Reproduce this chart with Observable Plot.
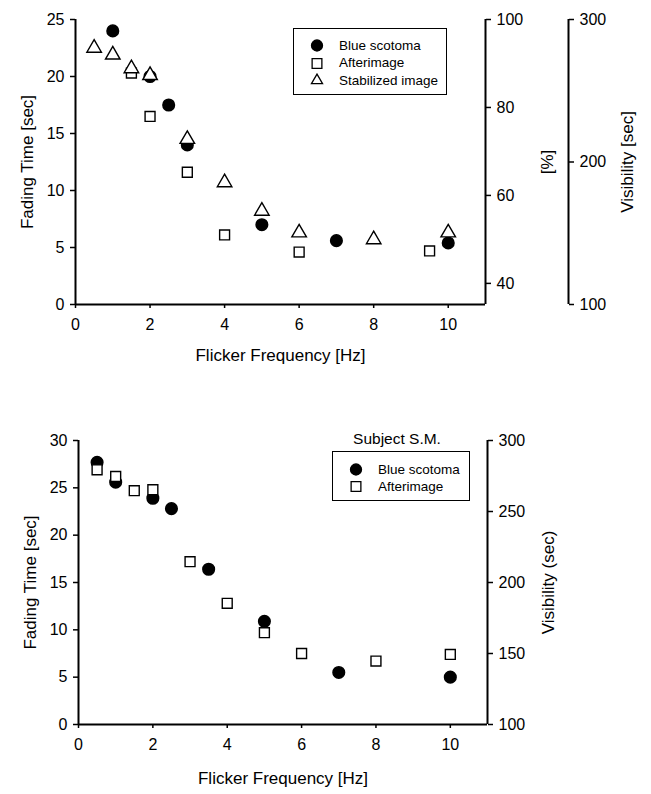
<!DOCTYPE html>
<html>
<head>
<meta charset="utf-8">
<script src="https://cdn.jsdelivr.net/npm/d3@7"></script>
<script src="https://cdn.jsdelivr.net/npm/@observablehq/plot@0.6"></script>
<style>
  body { margin: 0; background: #fff; }
  #page { position: relative; width: 651px; height: 794px; overflow: hidden; font-family: 'Liberation Sans', Arial, sans-serif; color: #000; }
  .layer { position: absolute; left: 0; pointer-events: none; }
  .legend { position: absolute; border: 1.5px solid #000; box-sizing: border-box; background: #fff; font-size: 13.5px; }
  .row { position: absolute; left: 0; height: 17px; display: flex; align-items: center; }
  .row svg { margin-left: 16px; margin-right: 15px; }
  .caption { position: absolute; font-size: 15.5px; transform: translate(-50%, -50%); white-space: nowrap; }
</style>
</head>
<body>
<div id="page"></div>
<script>
// ---------- data ----------
const topFreqBlue  = [1, 2, 2.5, 3, 5, 7, 10];
const topFadeBlue  = [24.0, 20.0, 17.5, 14.0, 7.0, 5.6, 5.4];
const topFreqAfter = [1.5, 2, 3, 4, 6, 9.5];
const topFadeAfter = [20.3, 16.5, 11.6, 6.1, 4.6, 4.7];
const topFreqStab  = [0.5, 1, 1.5, 2, 3, 4, 5, 6, 8, 10];
const topFadeStab  = [22.5, 21.9, 20.7, 20.1, 14.5, 10.7, 8.2, 6.3, 5.7, 6.3];

const botFreqBlue  = [0.5, 1, 2, 2.5, 3.5, 5, 7, 10];
const botFadeBlue  = [27.7, 25.6, 23.9, 22.8, 16.4, 10.9, 5.5, 5.0];
const botFreqAfter = [0.5, 1, 1.5, 2, 3, 4, 5, 6, 8, 10];
const botFadeAfter = [26.9, 26.2, 24.7, 24.8, 17.2, 12.8, 9.7, 7.5, 6.7, 7.4];

const xTicks = [0, 2, 4, 6, 8, 10];
const topYTicks = [0, 5, 10, 15, 20, 25];
const botYTicks = [0, 5, 10, 15, 20, 25, 30];
const pctTicks = [40, 60, 80, 100];
const visTopTicks = [100, 200, 300];
const visBotTicks = [100, 150, 200, 250, 300];

const topSeries = ["Blue scotoma", "Afterimage", "Stabilized image"];
const botSeries = ["Blue scotoma", "Afterimage"];
const seriesSymbols = ["circle", "square", "triangle"];
const botCaption = "Subject S.M.";

const xLabel = "Flicker Frequency [Hz]";
const yLabel = "Fading Time [sec]";
const pctLabel = "[%]";
const visTopLabel = "Visibility [sec]";
const visBotLabel = "Visibility (sec)";

const zip = (xs, ys) => xs.map((x, i) => ({x, y: ys[i]}));

// ---------- helpers ----------
const baseStyle = {fontFamily: "'Liberation Sans', Arial, sans-serif", fontSize: "16px", color: "#000", background: "transparent", overflow: "visible"};
const page = document.getElementById("page");

function addLayer(node, top) {
  const d = document.createElement("div");
  d.className = "layer";
  d.style.top = top + "px";
  d.appendChild(node);
  page.appendChild(d);
}

function mainPlot({top, height, mTop, mBottom, mLeft, mRight, yDomain, yTicks, xLabelDy, series}) {
  const marks = [
    Plot.ruleY([0], {strokeWidth: 2}),
    Plot.ruleX([0], {strokeWidth: 2}),
    Plot.axisX({ticks: xTicks, tickSize: 4, tickPadding: 10, strokeWidth: 1.5, label: null}),
    Plot.axisY({ticks: yTicks, tickSize: 5, tickPadding: 6, strokeWidth: 1.5, label: null}),
    Plot.text([xLabel], {text: d => d, frameAnchor: "bottom", dy: xLabelDy, lineAnchor: "middle", textAnchor: "middle", fontSize: 17}),
    Plot.text([yLabel], {text: d => d, frameAnchor: "left", dx: -48, rotate: -90, textAnchor: "middle", lineAnchor: "middle", fontSize: 17})
  ];
  for (const s of series) marks.push(s);
  const chart = Plot.plot({
    width: 651, height,
    marginTop: mTop, marginBottom: mBottom, marginLeft: mLeft, marginRight: mRight,
    x: {domain: [0, 11]},
    y: {domain: yDomain},
    style: baseStyle,
    marks
  });
  addLayer(chart, top);
}

function sideAxis({top, height, mTop, mBottom, at, domain, ticks, label, labelDx}) {
  const chart = Plot.plot({
    width: 651, height,
    marginTop: mTop, marginBottom: mBottom, marginLeft: at - 1, marginRight: 651 - at,
    x: {domain: [0, 1], axis: null},
    y: {domain},
    style: baseStyle,
    marks: [
      Plot.ruleX([1], {strokeWidth: 2}),
      Plot.axisY({anchor: "right", ticks, tickSize: 5, tickPadding: 6, strokeWidth: 1.5, label: null}),
      Plot.text([label], {text: d => d, frameAnchor: "right", dx: labelDx, rotate: -90, textAnchor: "middle", lineAnchor: "middle", fontSize: 17})
    ]
  });
  addLayer(chart, top);
}

function symbolSvg(sym) {
  const ns = "http://www.w3.org/2000/svg";
  const svg = document.createElementNS(ns, "svg");
  svg.setAttribute("width", 14); svg.setAttribute("height", 14);
  const p = document.createElementNS(ns, "path");
  const typ = {circle: d3.symbolCircle, square: d3.symbolSquare, triangle: d3.symbolTriangle2}[sym];
  const r = {circle: 5.5, square: 5.5, triangle: 5.3}[sym];
  p.setAttribute("d", d3.symbol(typ, Math.PI * r * r)());
  p.setAttribute("transform", "translate(7,7.5)");
  p.setAttribute("fill", sym === "circle" ? "#000" : "#fff");
  p.setAttribute("stroke", "#000");
  p.setAttribute("stroke-width", 1.3);
  svg.appendChild(p);
  return svg;
}

function legend({left, top, width, height, names, firstRow, step}) {
  const box = document.createElement("div");
  box.className = "legend";
  Object.assign(box.style, {left: left + "px", top: top + "px", width: width + "px", height: height + "px"});
  names.forEach((n, i) => {
    const row = document.createElement("div");
    row.className = "row";
    row.style.top = (firstRow + i * step - 8.5) + "px";
    row.appendChild(symbolSvg(seriesSymbols[i]));
    const t = document.createElement("span");
    t.textContent = n;
    row.appendChild(t);
    box.appendChild(row);
  });
  page.appendChild(box);
}

function seriesMarks(sets) {
  const opts = {
    circle: {r: 5.8, fill: "#000", stroke: "#000"},
    square: {r: 5.6, fill: "#fff", stroke: "#000", strokeWidth: 1.4},
    triangle: {r: 5.4, fill: "#fff", stroke: "#000", strokeWidth: 1.4}
  };
  return sets.map(([data, sym]) => Plot.dot(data, {x: "x", y: "y", symbol: () => sym, ...opts[sym]}));
}

// ---------- top chart ----------
const topH = 370;
mainPlot({
  top: 0, height: topH, mTop: 19, mBottom: 66, mLeft: 75, mRight: 166,
  yDomain: [0, 25], yTicks: topYTicks, xLabelDy: 51,
  series: seriesMarks([
    [zip(topFreqBlue, topFadeBlue), "circle"],
    [zip(topFreqAfter, topFadeAfter), "square"],
    [zip(topFreqStab, topFadeStab), "triangle"]
  ])
});
sideAxis({top: 0, height: topH, mTop: 19, mBottom: 66, at: 485, domain: [35.2, 100], ticks: pctTicks, label: pctLabel, labelDx: 62});
sideAxis({top: 0, height: topH, mTop: 19, mBottom: 66, at: 568, domain: [100, 300], ticks: visTopTicks, label: visTopLabel, labelDx: 59});
legend({left: 293, top: 28, width: 154, height: 67, names: topSeries, firstRow: 16, step: 17.5});

// ---------- bottom chart ----------
const botTop = 400, botH = 394;
mainPlot({
  top: botTop, height: botH, mTop: 40, mBottom: 70, mLeft: 78, mRight: 164,
  yDomain: [0, 30], yTicks: botYTicks, xLabelDy: 54,
  series: seriesMarks([
    [zip(botFreqBlue, botFadeBlue), "circle"],
    [zip(botFreqAfter, botFadeAfter), "square"]
  ])
});
sideAxis({top: botTop, height: botH, mTop: 40, mBottom: 70, at: 487, domain: [100, 300], ticks: visBotTicks, label: visBotLabel, labelDx: 61});
legend({left: 332, top: 451, width: 138, height: 50, names: botSeries, firstRow: 17, step: 17});
const cap = document.createElement("div");
cap.className = "caption";
cap.textContent = botCaption;
cap.style.left = "397px"; cap.style.top = "439px";
page.appendChild(cap);
</script>
</body>
</html>
